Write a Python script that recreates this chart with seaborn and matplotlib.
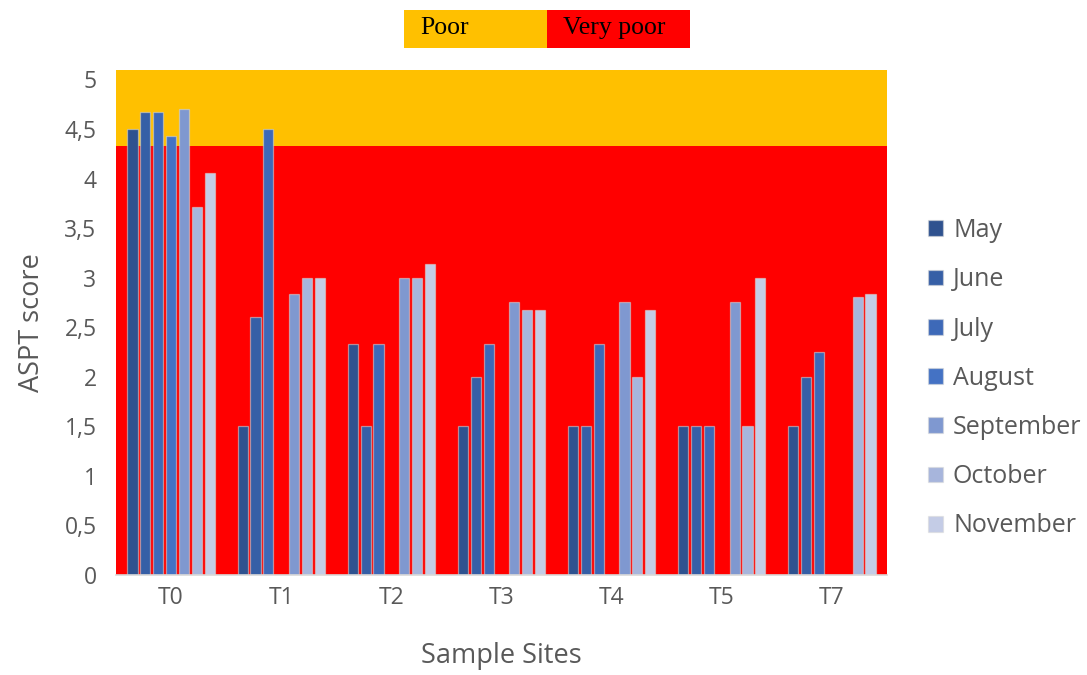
import numpy as np
import pandas as pd
import matplotlib
matplotlib.use("Agg")
import matplotlib.pyplot as plt
from matplotlib.patches import Rectangle
import seaborn as sns

# ---- data -------------------------------------------------------------
sites = ["T0", "T1", "T2", "T3", "T4", "T5", "T7"]
months = ["May", "June", "July", "August", "September", "October", "November"]
nan = np.nan
may       = [4.5,  1.5,  2.33, 1.5,  1.5,  1.5,  1.5]
june      = [4.67, 2.6,  1.5,  2.0,  1.5,  1.5,  2.0]
july      = [4.67, 4.5,  2.33, 2.33, 2.33, 1.5,  2.25]
august    = [4.43, nan,  nan,  nan,  nan,  nan,  nan]
september = [4.7,  2.83, 3.0,  2.75, 2.75, 2.75, nan]
october   = [3.71, 3.0,  3.0,  2.67, 2.0,  1.5,  2.8]
november  = [4.06, 3.0,  3.14, 2.67, 2.67, 3.0,  2.83]

# quality classes drawn behind the bars
class_names = ["Poor", "Very poor"]
class_colors = ["#FFC000", "#FF0000"]
very_poor_limit = 4.33
axis_top = 5.1

y_ticks = [0, 0.5, 1, 1.5, 2, 2.5, 3, 3.5, 4, 4.5, 5]
y_tick_labels = ["0", "0,5", "1", "1,5", "2", "2,5", "3", "3,5", "4", "4,5", "5"]

month_colors = ["#2F528F", "#365FA6", "#3D69B8", "#4472C4",
                "#7F98D0", "#A7B5DC", "#C4CCE6"]

series = [may, june, july, august, september, october, november]
df = pd.DataFrame({
    "site": np.repeat([sites], len(months), axis=0).ravel(),
    "month": np.repeat(months, len(sites)),
    "score": np.concatenate(series),
})

# ---- figure -----------------------------------------------------------
sns.set_theme(style="white")
plt.rcParams["font.family"] = ["Open Sans", "DejaVu Sans"]

fig = plt.figure(figsize=(10.87, 6.75), dpi=100)
ax = fig.add_axes([116 / 1087, 1 - 575 / 675, (887 - 116) / 1087, (575 - 69.5) / 675])

ax.axhspan(0, very_poor_limit, color=class_colors[1], zorder=0, lw=0)
ax.axhspan(very_poor_limit, axis_top, color=class_colors[0], zorder=0, lw=0)

sns.barplot(data=df, x="site", y="score", hue="month", order=sites,
            hue_order=months, palette=month_colors, saturation=1,
            width=0.817, gap=0.22, errorbar=None, ax=ax, zorder=2,
            edgecolor=(0.85, 0.85, 0.85, 0.55), linewidth=0.9)

ax.set_xlim(-0.5, len(sites) - 0.5)
ax.set_ylim(0, axis_top)
ax.set_yticks(y_ticks)
ax.set_yticklabels(y_tick_labels)

text_grey = "#595959"
ax.tick_params(axis="both", labelsize=16.5, colors=text_grey, length=0)
ax.tick_params(axis="x", pad=8)
ax.tick_params(axis="y", pad=14)
ax.set_xlabel("Sample Sites", fontsize=19.5, color=text_grey, labelpad=23)
ax.set_ylabel("ASPT score", fontsize=19.5, color=text_grey, labelpad=13)

for side in ["top", "right", "left"]:
    ax.spines[side].set_visible(False)
ax.spines["bottom"].set_color("#D9D9D9")
ax.spines["bottom"].set_linewidth(1.2)

# legend on the right
handles, labels = ax.get_legend_handles_labels()
ax.legend(handles, labels, loc="upper left",
          bbox_to_anchor=(918 / 1087, 1 - 208 / 675),
          bbox_transform=fig.transFigure, frameon=False,
          fontsize=18, labelcolor=text_grey,
          handlelength=0.6, handleheight=0.6, handletextpad=0.4,
          labelspacing=0.97, borderaxespad=0)

# class key across the top
box_y0 = 1 - 47.5 / 675
box_h = 37.5 / 675
box_w = 143 / 1087
for i, (name, col) in enumerate(zip(class_names, class_colors)):
    x0 = 404 / 1087 + i * box_w
    fig.patches.append(Rectangle((x0, box_y0), box_w, box_h,
                                 transform=fig.transFigure,
                                 facecolor=col, edgecolor="none"))
    fig.text(x0 + 16 / 1087, 1 - 28 / 675, name, ha="left", va="center",
             fontsize=18.5, family="Liberation Serif", color="black")

fig.savefig("out.png", dpi=100)
